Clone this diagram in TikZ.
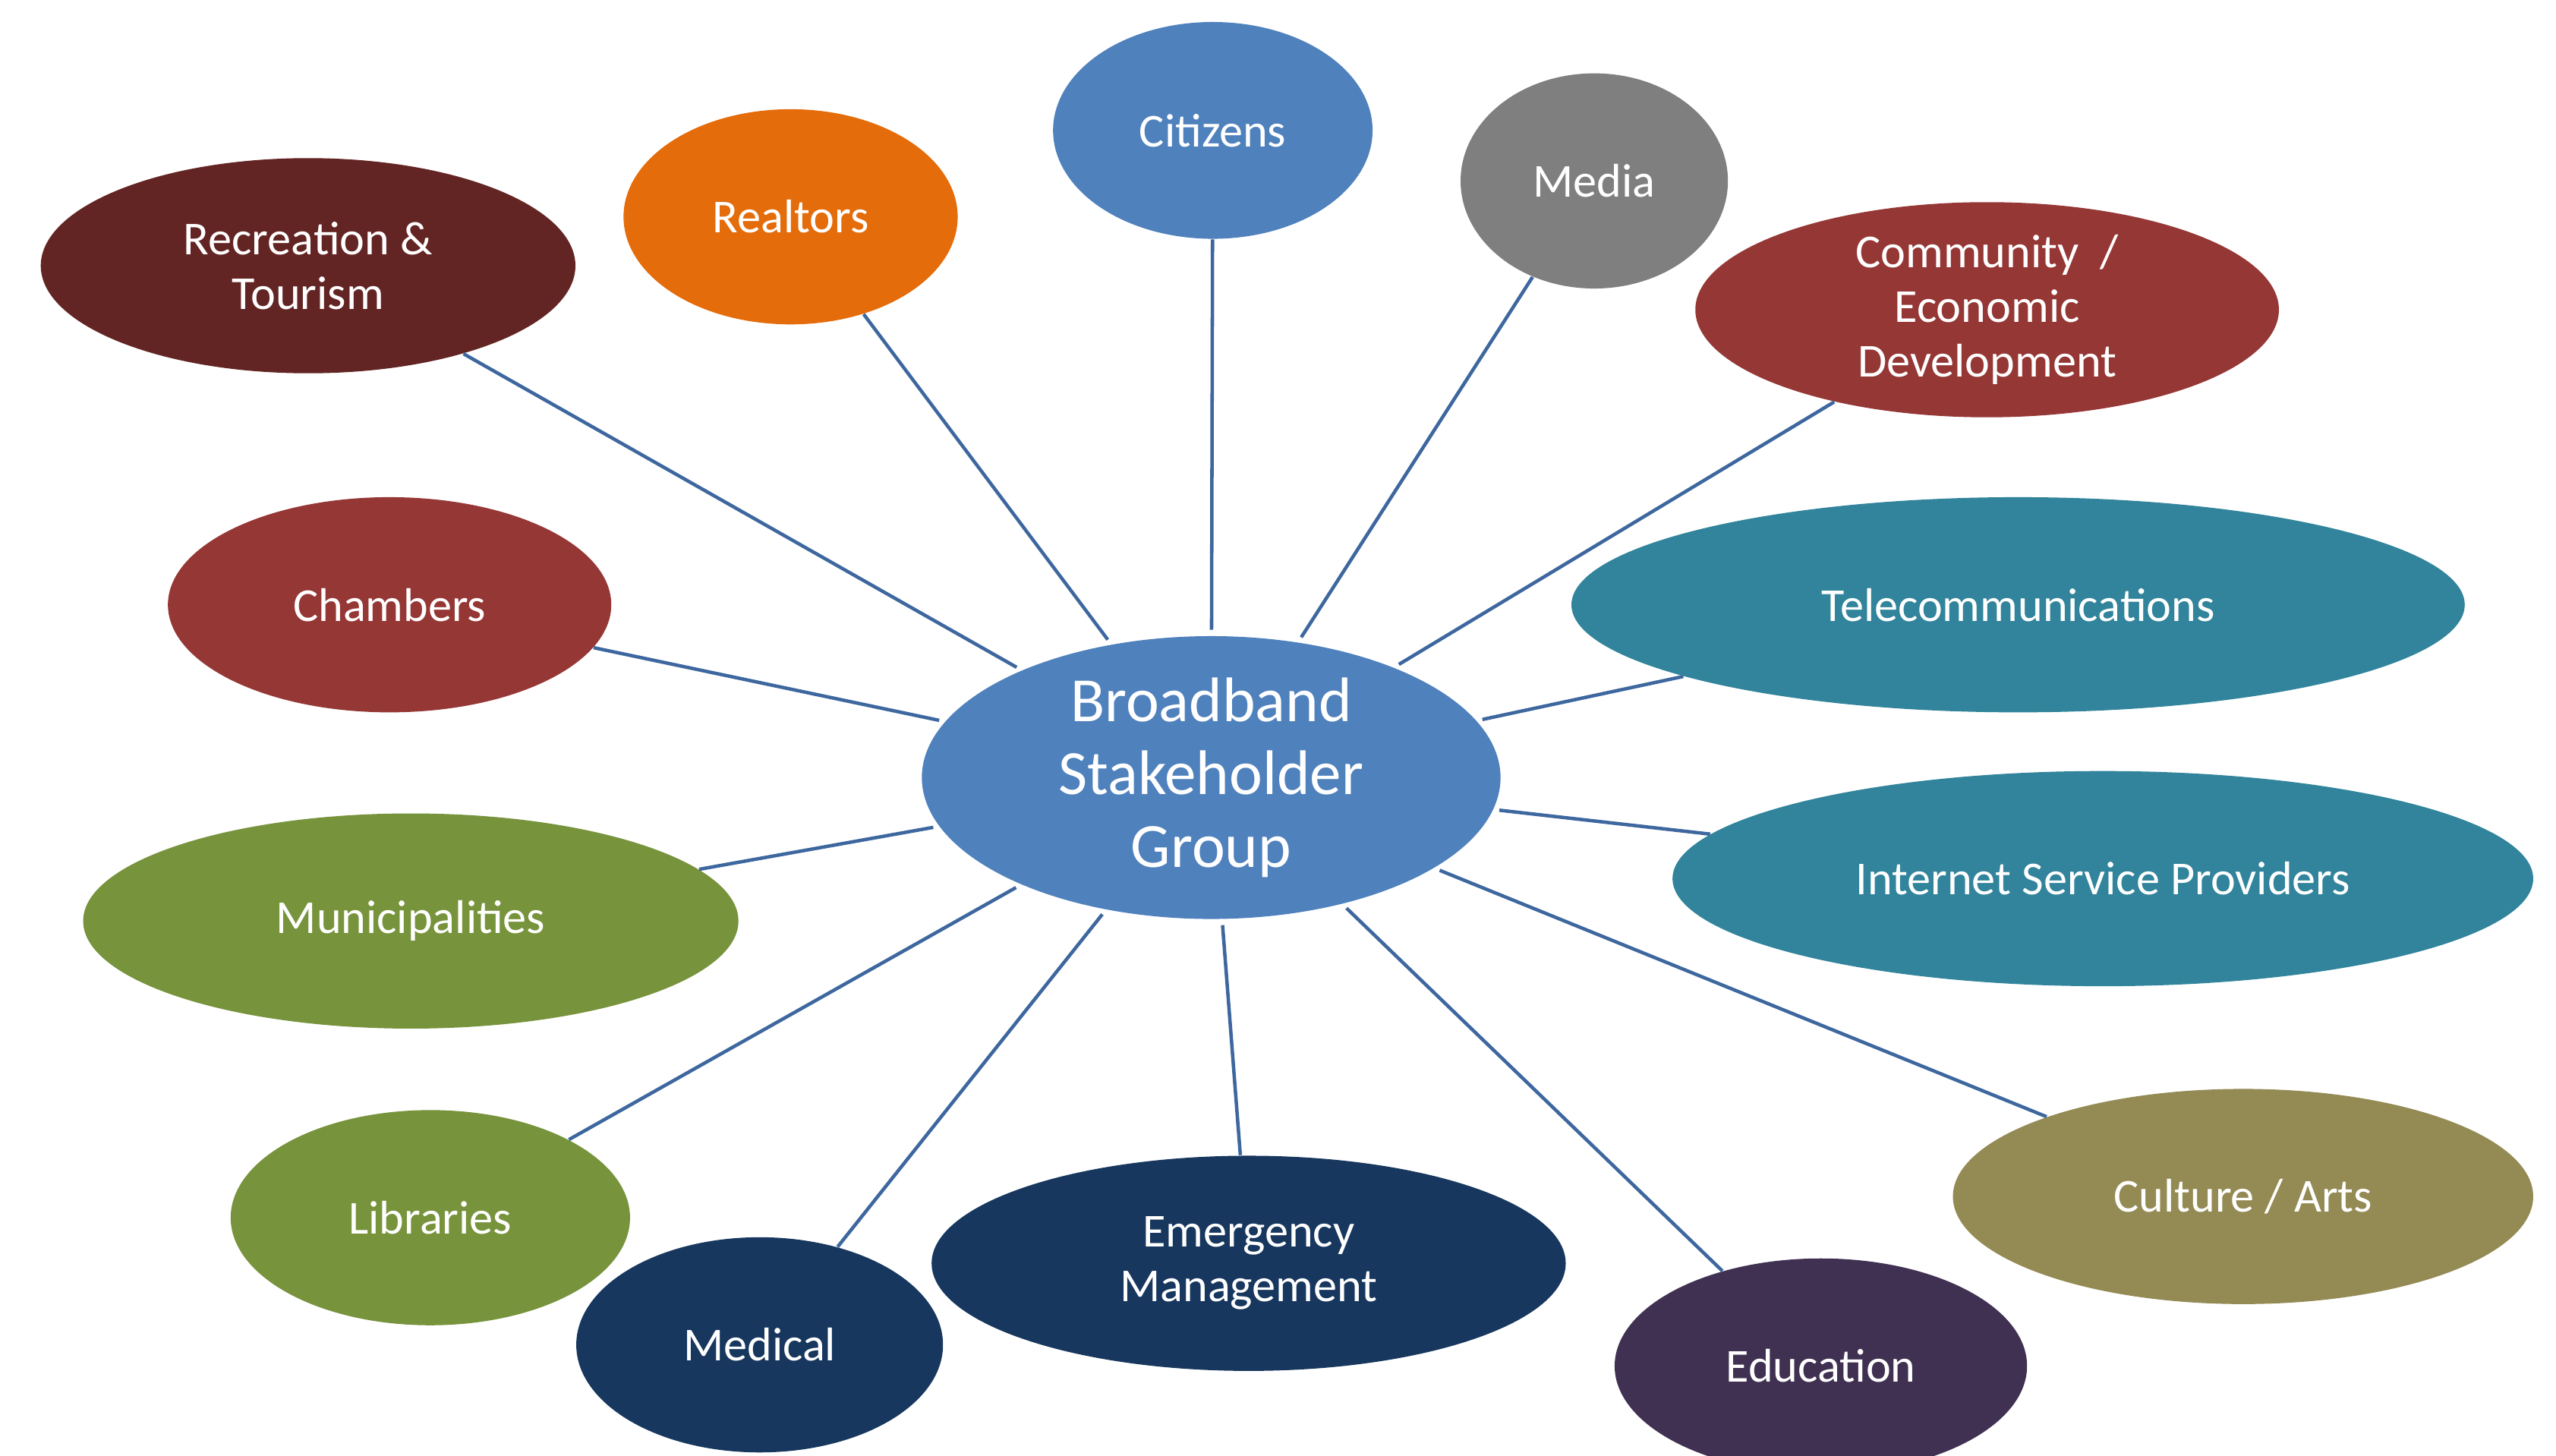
\documentclass[tikz,border=0pt]{standalone}
\usepackage{fontspec}
\setmainfont{Carlito}
\usetikzlibrary{shapes.geometric}

\definecolor{hubblue}{HTML}{4F81BD}
\definecolor{linkblue}{HTML}{3D679E}
\definecolor{orangeR}{HTML}{E46C0A}
\definecolor{darkred}{HTML}{632523}
\definecolor{midred}{HTML}{953735}
\definecolor{grayM}{HTML}{7F7F7F}
\definecolor{tealT}{HTML}{31849B}
\definecolor{oliveC}{HTML}{948A54}
\definecolor{purpleE}{HTML}{403152}
\definecolor{navyE}{HTML}{17375E}
\definecolor{greenL}{HTML}{77933C}

\tikzset{
  stake/.style={ellipse, fill=#1, text=white, inner sep=0pt, align=center,
    font=\fontsize{16.5}{19}\selectfont, minimum height=2.64cm},
  link/.style={draw=linkblue, line width=1.2pt}
}

\begin{document}
\begin{tikzpicture}
\useasboundingbox (0,0) rectangle (31.36,17.86);
\clip (0,0) rectangle (31.36,17.86);

\node[stake=hubblue, minimum width=7.1cm, minimum height=3.36cm,
  font=\fontsize{22}{25.5}\selectfont] (hub) at (14.86, 8.32) {Broadband\\Stakeholder\\Group};

\node[stake=hubblue, minimum width=3.92cm, minimum height=2.66cm] (citizens) at (14.88, 16.26) {Citizens};
\node[stake=orangeR, minimum width=4.1cm] (realtors) at (9.70, 15.20) {Realtors};
\node[stake=darkred, minimum width=6.56cm] (recreation) at (3.78, 14.60) {Recreation \&\\Tourism};
\node[stake=grayM, minimum width=3.28cm] (media) at (19.56, 15.64) {Media};
\node[stake=midred, minimum width=7.16cm] (community) at (24.38, 14.06) {Community~~/\\Economic\\Development};
\node[stake=tealT, minimum width=10.96cm] (telecom) at (24.76, 10.44) {Telecommunications};
\node[stake=tealT, minimum width=10.56cm] (isp) at (25.80, 7.08) {Internet Service Providers};
\node[stake=oliveC, minimum width=7.12cm] (culture) at (27.52, 3.18) {Culture / Arts};
\node[stake=purpleE, minimum width=5.06cm] (education) at (22.34, 1.10) {Education};
\node[stake=navyE, minimum width=7.78cm] (emergency) at (15.32, 2.36) {Emergency\\Management};
\node[stake=navyE, minimum width=4.5cm] (medical) at (9.32, 1.36) {Medical};
\node[stake=greenL, minimum width=4.9cm] (libraries) at (5.28, 2.92) {Libraries};
\node[stake=greenL, minimum width=8.04cm] (municipalities) at (5.04, 6.56) {Municipalities};
\node[stake=midred, minimum width=5.44cm] (chambers) at (4.78, 10.44) {Chambers};

\foreach \s in {citizens, realtors, recreation, media, community, telecom, isp,
  culture, education, emergency, medical, libraries, municipalities, chambers}
  \draw[link, shorten <=2pt] (hub) -- (\s);
\end{tikzpicture}
\end{document}
